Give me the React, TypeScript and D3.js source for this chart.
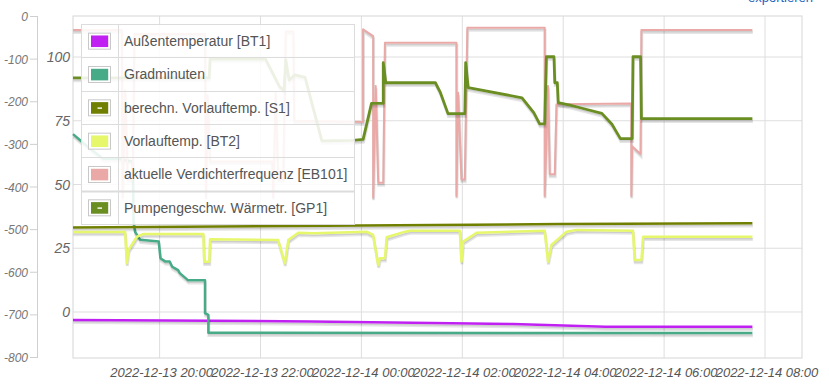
import React from "react";
import * as d3 from "d3";

const W = 829;
const H = 388;

// ---- axis / tick data ----
const xDomain = ["2022-12-13 18:17", "2022-12-14 08:44"];
const xTicks = [
  "2022-12-13 20:00",
  "2022-12-13 22:00",
  "2022-12-14 00:00",
  "2022-12-14 02:00",
  "2022-12-14 04:00",
  "2022-12-14 06:00",
  "2022-12-14 08:00",
];
const outerTicks = [0, -100, -200, -300, -400, -500, -600, -700, -800];
const innerTicks = [0, 25, 50, 75, 100];
const innerDomain = [-18.04, 116.08];
const outerDomain = [-800, 0];

// ---- series ----
const seriesNames = [
  "Außentemperatur [BT1]",
  "Gradminuten",
  "berechn. Vorlauftemp. [S1]",
  "Vorlauftemp. [BT2]",
  "aktuelle Verdichterfrequenz [EB101]",
  "Pumpengeschw. Wärmetr. [GP1]",
];
const seriesColors = ["#c020f2", "#46ab86", "#707f00", "#e6f76c", "#eaa9a7", "#6b8e23"];
const seriesDash = [false, false, true, false, false, true];

type P = [string, number];

const bt1: P[] = [
  ["2022-12-13 18:17", -3.1],
  ["2022-12-13 23:00", -3.7],
  ["2022-12-14 01:00", -4.2],
  ["2022-12-14 03:00", -4.7],
  ["2022-12-14 04:50", -5.8],
  ["2022-12-14 07:45", -5.8],
];

const gradminuten: P[] = [
  ["2022-12-13 18:17", -276],
  ["2022-12-13 18:35", -306],
  ["2022-12-13 18:53", -334],
  ["2022-12-13 19:11", -334],
  ["2022-12-13 19:28", -340],
  ["2022-12-13 19:29", -482],
  ["2022-12-13 19:31", -506],
  ["2022-12-13 19:37", -524],
  ["2022-12-13 19:59", -528],
  ["2022-12-13 20:01", -567],
  ["2022-12-13 20:07", -575],
  ["2022-12-13 20:12", -575],
  ["2022-12-13 20:15", -587],
  ["2022-12-13 20:22", -595],
  ["2022-12-13 20:24", -602],
  ["2022-12-13 20:34", -619],
  ["2022-12-13 20:54", -619],
  ["2022-12-13 20:54", -696],
  ["2022-12-13 20:58", -700],
  ["2022-12-13 20:58", -742],
  ["2022-12-14 07:45", -742.5],
];

const s1: P[] = [
  ["2022-12-13 18:17", 33.1],
  ["2022-12-14 00:00", 33.9],
  ["2022-12-14 03:56", 34.5],
  ["2022-12-14 07:45", 34.8],
];

const bt2: P[] = [
  ["2022-12-13 18:17", 31.4],
  ["2022-12-13 19:19", 31.4],
  ["2022-12-13 19:21", 19.1],
  ["2022-12-13 19:23", 24.3],
  ["2022-12-13 19:33", 29.5],
  ["2022-12-13 19:41", 30.6],
  ["2022-12-13 20:52", 30.6],
  ["2022-12-13 20:53", 19.7],
  ["2022-12-13 20:59", 19.7],
  ["2022-12-13 21:00", 28.5],
  ["2022-12-13 22:21", 28.2],
  ["2022-12-13 22:29", 19.1],
  ["2022-12-13 22:33", 28.2],
  ["2022-12-13 22:45", 31.1],
  ["2022-12-13 23:03", 30.9],
  ["2022-12-14 00:06", 31.5],
  ["2022-12-14 00:14", 30.2],
  ["2022-12-14 00:20", 18.4],
  ["2022-12-14 00:22", 21.1],
  ["2022-12-14 00:28", 21.1],
  ["2022-12-14 00:30", 29.3],
  ["2022-12-14 00:52", 31.5],
  ["2022-12-14 00:58", 31.9],
  ["2022-12-14 01:57", 31.9],
  ["2022-12-14 01:59", 19.7],
  ["2022-12-14 02:01", 27.6],
  ["2022-12-14 02:17", 31.1],
  ["2022-12-14 03:38", 31.9],
  ["2022-12-14 03:42", 19.7],
  ["2022-12-14 03:46", 26.3],
  ["2022-12-14 04:04", 31.5],
  ["2022-12-14 04:16", 32.2],
  ["2022-12-14 05:23", 31.9],
  ["2022-12-14 05:25", 20.4],
  ["2022-12-14 05:33", 20.4],
  ["2022-12-14 05:35", 29.5],
  ["2022-12-14 07:45", 29.5],
];

const eb101: P[] = [
  ["2022-12-13 18:17", 110.6],
  ["2022-12-13 19:15", 110.6],
  ["2022-12-13 19:16", 45],
  ["2022-12-13 19:19", 87],
  ["2022-12-13 19:22", 52],
  ["2022-12-13 19:28", 52],
  ["2022-12-13 19:30", 109],
  ["2022-12-13 20:54", 109],
  ["2022-12-13 20:55", 45],
  ["2022-12-13 20:57", 85],
  ["2022-12-13 21:00", 59],
  ["2022-12-13 22:14", 59],
  ["2022-12-13 22:15", 45],
  ["2022-12-13 22:18", 86],
  ["2022-12-13 22:21", 52],
  ["2022-12-13 22:27", 52],
  ["2022-12-13 22:30", 110],
  ["2022-12-13 22:39", 110],
  ["2022-12-13 22:40", 75],
  ["2022-12-14 00:02", 74.5],
  ["2022-12-14 00:02", 110.9],
  ["2022-12-14 00:14", 108.2],
  ["2022-12-14 00:14", 44.8],
  ["2022-12-14 00:17", 88.6],
  ["2022-12-14 00:20", 50.7],
  ["2022-12-14 00:26", 50.7],
  ["2022-12-14 00:28", 105.6],
  ["2022-12-14 01:53", 105.6],
  ["2022-12-14 01:53", 45.5],
  ["2022-12-14 01:55", 86],
  ["2022-12-14 01:59", 52],
  ["2022-12-14 02:03", 52],
  ["2022-12-14 02:06", 111.5],
  ["2022-12-14 03:38", 111.5],
  ["2022-12-14 03:38", 45.5],
  ["2022-12-14 03:42", 88.6],
  ["2022-12-14 03:44", 54],
  ["2022-12-14 03:50", 54],
  ["2022-12-14 03:52", 81.5],
  ["2022-12-14 05:21", 81.8],
  ["2022-12-14 05:21", 45.5],
  ["2022-12-14 05:22", 65],
  ["2022-12-14 05:32", 62],
  ["2022-12-14 05:33", 110.6],
  ["2022-12-14 07:45", 110.6],
];

const gp1: P[] = [
  ["2022-12-13 18:17", 91.8],
  ["2022-12-13 20:59", 91.8],
  ["2022-12-13 21:00", 99.2],
  ["2022-12-13 22:06", 99.2],
  ["2022-12-13 22:23", 88.2],
  ["2022-12-13 22:28", 87],
  ["2022-12-13 22:30", 99],
  ["2022-12-13 22:34", 91],
  ["2022-12-13 22:41", 93],
  ["2022-12-13 22:53", 92],
  ["2022-12-13 23:13", 67.1],
  ["2022-12-13 23:50", 67.3],
  ["2022-12-14 00:02", 67.7],
  ["2022-12-14 00:12", 81.8],
  ["2022-12-14 00:26", 81.8],
  ["2022-12-14 00:26", 97.8],
  ["2022-12-14 00:29", 89.9],
  ["2022-12-14 01:28", 89.9],
  ["2022-12-14 01:34", 86],
  ["2022-12-14 01:43", 77.8],
  ["2022-12-14 02:03", 77.8],
  ["2022-12-14 02:04", 97.8],
  ["2022-12-14 02:07", 88],
  ["2022-12-14 03:11", 84],
  ["2022-12-14 03:25", 78.2],
  ["2022-12-14 03:32", 73.8],
  ["2022-12-14 03:38", 73.8],
  ["2022-12-14 03:40", 100.1],
  ["2022-12-14 03:49", 100.1],
  ["2022-12-14 03:50", 89.9],
  ["2022-12-14 03:53", 89.9],
  ["2022-12-14 03:54", 82.1],
  ["2022-12-14 04:08", 81.1],
  ["2022-12-14 04:20", 80.1],
  ["2022-12-14 04:46", 77.9],
  ["2022-12-14 04:58", 73.6],
  ["2022-12-14 05:08", 68],
  ["2022-12-14 05:22", 68],
  ["2022-12-14 05:23", 100.1],
  ["2022-12-14 05:32", 100.1],
  ["2022-12-14 05:33", 75.8],
  ["2022-12-14 07:45", 75.8],
];

const seriesData = [bt1, gradminuten, s1, bt2, eb101, gp1];
const seriesAxis = ["inner", "outer", "inner", "inner", "inner", "inner"];
const seriesWidth = [2.5, 2.5, 2.5, 2.5, 2, 2.8];

const parse = d3.timeParse("%Y-%m-%d %H:%M");
const FONT = "'Liberation Sans', Arial, sans-serif";

export default function App() {
  const left = 73, right = 802, top = 16, bottom = 358;
  const x = d3
    .scaleTime()
    .domain([parse(xDomain[0])!, parse(xDomain[1])!])
    .range([left, right]);
  const yInner = d3.scaleLinear().domain(innerDomain).range([bottom, top]);
  const yOuter = d3.scaleLinear().domain(outerDomain).range([bottom - 0.5, top + 0.5]);
  const fmt = d3.timeFormat("%Y-%m-%d %H:%M");

  const lines = seriesData.map((data, i) => {
    const ys = seriesAxis[i] === "outer" ? yOuter : yInner;
    const gen = d3
      .line<P>()
      .x((d) => x(parse(d[0])!))
      .y((d) => ys(d[1]));
    return gen(data) || "";
  });

  const lw = seriesWidth;
  const sw = 3;
  const ang = Math.PI / 18;

  const legLeft = 81, legTop = 24, legW = 273, rowH = 33.33;
  const legH = rowH * seriesNames.length;

  return (
    <svg
      width={W}
      height={H}
      style={{ position: "absolute", left: 0, top: 0, background: "#fff" }}
      fontFamily={FONT}
    >
      <rect x={0} y={0} width={W} height={H} fill="#fff" />
      {/* export link (cut off at top) */}
      <text x={813} y={2} textAnchor="end" fontSize={13} fill="#1a5fc0">
        exportieren
      </text>

      {/* grid */}
      {innerTicks.map((t) => (
        <line key={"hg" + t} x1={left} x2={right} y1={yInner(t)} y2={yInner(t)} stroke="#dedede" strokeWidth={1} />
      ))}
      {xTicks.map((t) => (
        <line key={"vg" + t} x1={x(parse(t)!)} x2={x(parse(t)!)} y1={top} y2={bottom} stroke="#dedede" strokeWidth={1} />
      ))}
      <rect x={left} y={top} width={right - left} height={bottom - top} fill="none" stroke="#d6d6d6" strokeWidth={1} />

      {/* outer axis */}
      <line x1={37.5} x2={37.5} y1={top} y2={bottom} stroke="#cfcfcf" strokeWidth={1} />
      {outerTicks.map((t) => (
        <g key={"ot" + t}>
          <line x1={30} x2={37.5} y1={yOuter(t)} y2={yOuter(t)} stroke="#cfcfcf" strokeWidth={1} />
          <text x={28} y={yOuter(t) + 4.5} textAnchor="end" fontSize={12} fontStyle="italic" fill="#777">
            {t}
          </text>
        </g>
      ))}
      {innerTicks.map((t) => (
        <text key={"it" + t} x={70} y={yInner(t) + 5} textAnchor="end" fontSize={14} fontStyle="italic" fill="#666">
          {t}
        </text>
      ))}
      {xTicks.map((t) => (
        <text key={"xt" + t} x={x(parse(t)!) + 2} y={377} textAnchor="middle" fontSize={13} fontStyle="italic" fill="#555">
          {fmt(parse(t)!)}
        </text>
      ))}

      {/* series */}
      <g>
        {lines.map((d, i) => (
          <g key={"s" + i}>
            <path
              d={d}
              fill="none"
              stroke="rgba(0,0,0,0.1)"
              strokeWidth={sw}
              transform={`translate(${Math.sin(ang) * (lw[i] / 2 + sw / 2)},${Math.cos(ang) * (lw[i] / 2 + sw / 2)})`}
            />
            <path
              d={d}
              fill="none"
              stroke="rgba(0,0,0,0.1)"
              strokeWidth={sw / 2}
              transform={`translate(${Math.sin(ang) * (lw[i] / 2 + sw / 4)},${Math.cos(ang) * (lw[i] / 2 + sw / 4)})`}
            />
            <path d={d} fill="none" stroke={seriesColors[i]} strokeWidth={lw[i]} strokeLinejoin="round" />
          </g>
        ))}
      </g>

      {/* legend */}
      <g>
        <rect x={legLeft} y={legTop} width={legW} height={legH} fill="#fff" fillOpacity={0.88} />
        <rect x={legLeft + 0.5} y={legTop + 0.5} width={legW} height={legH} fill="none" stroke="#dcdcdc" />
        <line x1={118.5} x2={118.5} y1={legTop} y2={legTop + legH} stroke="#dcdcdc" />
        {seriesNames.map((n, i) => {
          const cy = legTop + rowH * (i + 0.5);
          return (
            <g key={"lg" + i}>
              {i > 0 && (
                <line
                  x1={legLeft}
                  x2={legLeft + legW}
                  y1={Math.round(legTop + rowH * i) + 0.5}
                  y2={Math.round(legTop + rowH * i) + 0.5}
                  stroke="#dcdcdc"
                  strokeWidth={i === 5 ? 2 : 1}
                />
              )}
              <rect x={88.5} y={cy - 7.5} width={22} height={16} fill="#fff" stroke="#c8c8c8" />
              <rect x={91} y={cy - 5.2} width={17.2} height={11.6} fill={seriesColors[i]} />
              {seriesDash[i] && (
                <rect x={97.5} y={cy + 0.1} width={4.5} height={1.4} fill="#fff" />
              )}
              <text x={124} y={cy + 5.2} fontSize={14} fill="#555">
                {n}
              </text>
            </g>
          );
        })}
      </g>
    </svg>
  );
}
